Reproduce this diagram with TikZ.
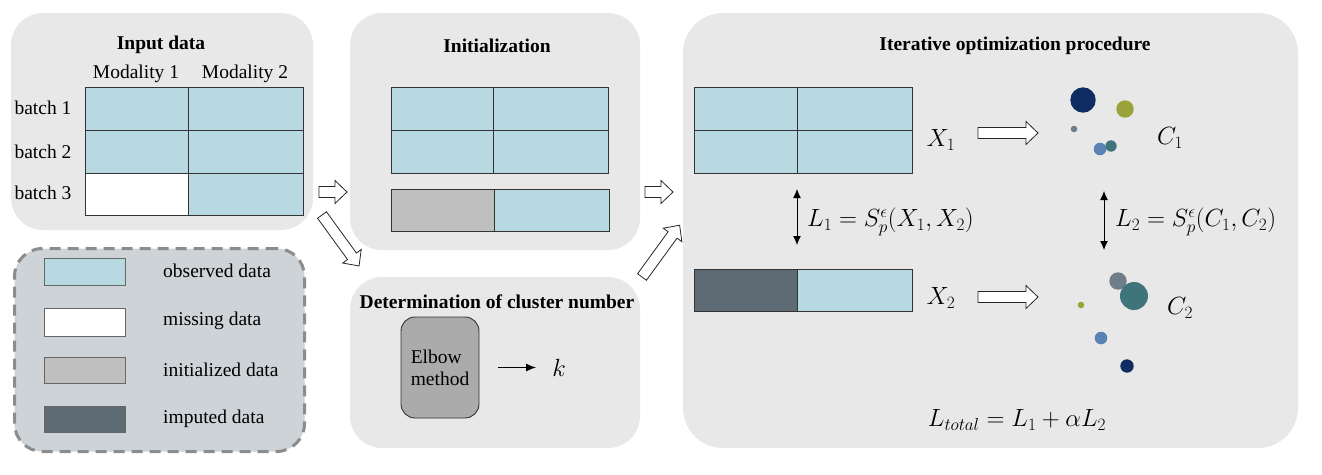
\documentclass[tikz,border=0pt]{standalone}
\usepackage{fontspec}
\setmainfont{Liberation Serif}
\usetikzlibrary{arrows.meta,calc}
\definecolor{obs}{HTML}{B8D8E2}
\definecolor{panel}{HTML}{E8E8E8}
\definecolor{legendbg}{HTML}{CDD3D7}
\definecolor{legendln}{HTML}{8C8C8C}
\definecolor{initc}{HTML}{BFBFBF}
\definecolor{impc}{HTML}{5F6B74}
\definecolor{elbowc}{HTML}{ABABAB}
\definecolor{dnavy}{HTML}{0F2D63}
\definecolor{dolive}{HTML}{9AA33A}
\definecolor{dgray}{HTML}{6E7D88}
\definecolor{dblue}{HTML}{5B82B4}
\definecolor{dteal}{HTML}{3E747A}
\begin{document}
\begin{tikzpicture}[x=1pt,y=-1pt,
  font=\fontsize{19.5}{22}\selectfont,
  panelbox/.style={fill=panel, draw=none, rounded corners=32pt, anchor=north west, inner sep=0, outer sep=0},
  cellbox/.style={draw=black!80, line width=0.9pt, anchor=north west, inner sep=0, outer sep=0},
  title/.style={font=\fontsize{19.5}{22}\selectfont\bfseries},
  mathlbl/.style={font=\fontsize{24}{27}\selectfont, inner sep=0},
  dot/.style={circle, inner sep=0, draw=none},
  dbl/.style={{Latex[length=9pt,width=8pt]}-{Latex[length=9pt,width=8pt]}, line width=1pt},
  pics/barrow/.style={code={
    \draw[fill=white, draw=black!85, line width=0.8pt]
      (0,-5.5) -- (#1-12,-5.5) -- (#1-12,-11.5) -- (#1,0) -- (#1-12,11.5) -- (#1-12,5.5) -- (0,5.5) -- cycle;}}
]
\useasboundingbox (0,0) rectangle (1322,474);

% ---------- panels ----------
\node[panelbox, minimum width=302, minimum height=217] (inputpanel) at (11,13) {};
\node[panelbox, minimum width=290, minimum height=237] (initpanel) at (350,13) {};
\node[panelbox, minimum width=290, minimum height=171] (detpanel) at (350,277) {};
\node[panelbox, minimum width=615, minimum height=435, rounded corners=40pt] (iterpanel) at (683,13) {};
\node[fill=legendbg, draw=legendln, line width=3pt, dash pattern=on 11pt off 7pt,
      rounded corners=28pt, minimum width=290, minimum height=203, anchor=north west, inner sep=0] (legend) at (13,247) {};

% ---------- input data ----------
\node[title] (inputtitle) at (161,45) {Input data};
\node (mod1) at (136,74) {Modality 1};
\node (mod2) at (245,74) {Modality 2};
\node (b1) at (43,108) {batch 1};
\node (b2) at (43,152) {batch 2};
\node (b3) at (43,193) {batch 3};
\node[cellbox, fill=obs, minimum width=103, minimum height=43] (in11) at (85,87) {};
\node[cellbox, fill=obs, minimum width=115, minimum height=43] (in12) at (188,87) {};
\node[cellbox, fill=obs, minimum width=103, minimum height=43] (in21) at (85,130) {};
\node[cellbox, fill=obs, minimum width=115, minimum height=43] (in22) at (188,130) {};
\node[cellbox, fill=white, minimum width=103, minimum height=42] (in31) at (85,173) {};
\node[cellbox, fill=obs, minimum width=115, minimum height=42] (in32) at (188,173) {};

% ---------- legend ----------
\node[cellbox, draw=black!60, fill=obs, minimum width=81, minimum height=27] (lg1) at (44,258) {};
\node[cellbox, draw=black!60, fill=white, minimum width=81, minimum height=28] (lg2) at (44,308) {};
\node[cellbox, draw=black!60, fill=initc, minimum width=81, minimum height=26] (lg3) at (44,357) {};
\node[cellbox, draw=black!60, fill=impc, minimum width=81, minimum height=26] (lg4) at (44,406) {};
\node[anchor=west, inner sep=0] (lt1) at (163,271) {observed data};
\node[anchor=west, inner sep=0] (lt2) at (163,321) {missing data};
\node[anchor=west, inner sep=0] (lt3) at (163,370) {initialized data};
\node[anchor=west, inner sep=0] (lt4) at (163,419) {imputed data};

% ---------- initialization ----------
\node[title] (inittitle) at (497,46) {Initialization};
\node[cellbox, fill=obs, minimum width=102, minimum height=43] (it11) at (391,87) {};
\node[cellbox, fill=obs, minimum width=115, minimum height=43] (it12) at (493,87) {};
\node[cellbox, fill=obs, minimum width=102, minimum height=43] (it21) at (391,130) {};
\node[cellbox, fill=obs, minimum width=115, minimum height=43] (it22) at (493,130) {};
\node[cellbox, fill=initc, minimum width=103, minimum height=42] (ib1) at (391,189) {};
\node[cellbox, fill=obs, minimum width=115, minimum height=42] (ib2) at (494,189) {};

% ---------- determination ----------
\node[title] (dettitle) at (497,302) {Determination of cluster number};
\node[draw=black!80, line width=0.9pt, fill=elbowc, rounded corners=14pt, minimum width=78, minimum height=101,
      align=left, inner sep=0] (elbow) at (440,367.5) {Elbow\\method};
\node[font=\fontsize{27}{29}\selectfont, inner sep=0] (k) at (559,367.5) {$k$};
\draw[-{Latex[length=10pt,width=8pt]}, line width=1.1pt, shorten <=19pt, shorten >=16pt] (elbow.east) -- (k.west);

% ---------- iterative ----------
\node[title] (itertitle) at (1015,46) {Iterative optimization procedure};
\node[cellbox, fill=obs, minimum width=103, minimum height=43] (x11) at (694,87) {};
\node[cellbox, fill=obs, minimum width=115, minimum height=43] (x12) at (797,87) {};
\node[cellbox, fill=obs, minimum width=103, minimum height=43] (x21) at (694,130) {};
\node[cellbox, fill=obs, minimum width=115, minimum height=43] (x22) at (797,130) {};
\node[cellbox, fill=impc, minimum width=103, minimum height=42] (y1) at (694,269) {};
\node[cellbox, fill=obs, minimum width=115, minimum height=42] (y2) at (797,269) {};
\node[mathlbl] (X1) at (941,140) {$X_1$};
\node[mathlbl] (X2) at (941,298) {$X_2$};
\coordinate (d1a) at (797,189);
\coordinate (d1b) at (797,245);
\draw[dbl] (d1a) -- (d1b);
\node[mathlbl, anchor=west] (L1) at (807,222) {$L_1 = S_p^{\epsilon}(X_1, X_2)$};
\coordinate (d2a) at (1104,191);
\coordinate (d2b) at (1104,250);
\draw[dbl] (d2a) -- (d2b);
\node[mathlbl, anchor=west] (L2) at (1115,222) {$L_2 = S_p^{\epsilon}(C_1, C_2)$};

% clusters C1
\node[dot, fill=dnavy, minimum size=25.4] (c1a) at (1083,100) {};
\node[dot, fill=dolive, minimum size=17.4] (c1b) at (1125,109) {};
\node[dot, fill=dgray, minimum size=6.6] (c1c) at (1074,129) {};
\node[dot, fill=dblue, minimum size=12.6] (c1d) at (1100,149) {};
\node[dot, fill=dteal, minimum size=11.4] (c1e) at (1111,146) {};
\node[mathlbl] (C1) at (1170,138) {$C_1$};
% clusters C2
\node[dot, fill=dgray, minimum size=17.4] (c2a) at (1118,281) {};
\node[dot, fill=dteal, minimum size=28] (c2b) at (1134,296) {};
\node[dot, fill=dolive, minimum size=6.6] (c2c) at (1081,305) {};
\node[dot, fill=dblue, minimum size=12.6] (c2d) at (1101,338) {};
\node[dot, fill=dnavy, minimum size=13.4] (c2e) at (1127,366) {};
\node[mathlbl] (C2) at (1180,308) {$C_2$};

\node[mathlbl] (Ltot) at (1017,420) {$L_{total} = L_1 + \alpha L_2$};

% ---------- block arrows ----------
\pic at (319,192) {barrow=28};
\pic[rotate=-54] at (322,215) {barrow=63};
\pic at (645,192) {barrow=28};
\pic[rotate=54] at (642,277) {barrow=64};
\pic at (978,133) {barrow=60};
\pic at (978,297) {barrow=60};
\end{tikzpicture}
\end{document}
